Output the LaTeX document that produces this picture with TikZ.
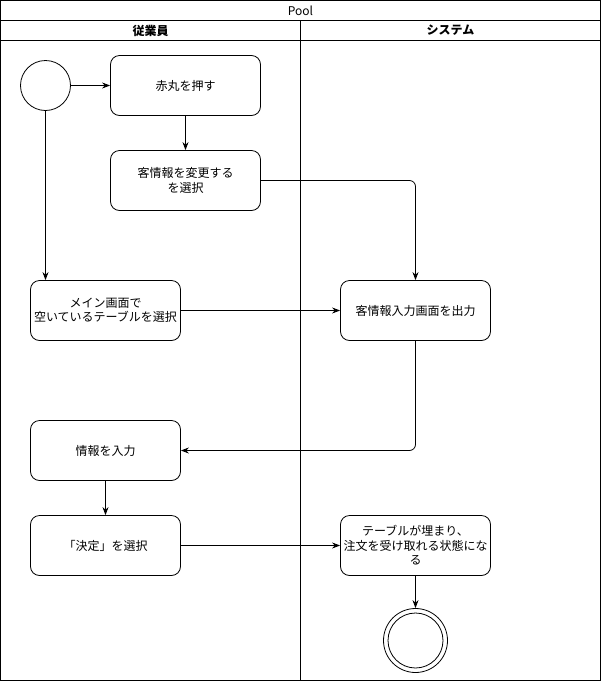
\documentclass[tikz,border=0pt]{standalone}
\usepackage{fontspec}
\setmainfont{Noto Sans CJK JP}
\usetikzlibrary{arrows.meta}
\begin{document}
\begin{tikzpicture}[x=1pt,y=-1pt,
  every node/.style={font=\fontsize{12}{14.5}\selectfont},
  act/.style={draw,rounded corners=9pt,minimum width=150pt,minimum height=60pt,inner sep=0pt,align=center,line width=0.8pt},
  flow/.style={-{Stealth[length=8pt,width=6pt]},line width=0.8pt,rounded corners=6pt},
  frame/.style={draw,line width=0.8pt}]
\useasboundingbox (0,0) rectangle (601,681);
% pool and lanes
\draw[frame] (0.5,0.5) rectangle (600.5,680.5);
\draw[frame] (0.5,20.5) -- (600.5,20.5);
\draw[frame] (0.5,40.5) -- (600.5,40.5);
\draw[frame] (300.5,20.5) -- (300.5,680.5);
\node (pool) at (300.5,10.5) {Pool};
\node[font=\fontsize{12}{14.5}\selectfont\bfseries] (lane1) at (150.5,30.5) {従業員};
\node[font=\fontsize{12}{14.5}\selectfont\bfseries] (lane2) at (450.5,30.5) {システム};
% nodes
\node[draw,circle,minimum size=50pt,inner sep=0pt,line width=0.8pt] (start) at (45.5,85.5) {};
\node[act] (a1) at (185.5,85.5) {赤丸を押す};
\node[act] (a2) at (185.5,180.5) {客情報を変更する\\を選択};
\node[act] (a3) at (105.5,310.5) {メイン画面で\\空いているテーブルを選択};
\node[act] (a4) at (415.5,310.5) {客情報入力画面を出力};
\node[act] (a5) at (105.5,450.5) {情報を入力};
\node[act] (a6) at (105.5,545.5) {「決定」を選択};
\node[act] (a7) at (415.5,545.5) {テーブルが埋まり、\\注文を受け取れる状態にな\\る};
\node[draw,circle,minimum size=64pt,inner sep=0pt,line width=0.8pt] (end) at (415.5,640.5) {};
\node[draw,circle,minimum size=55pt,inner sep=0pt,line width=0.8pt] (endin) at (415.5,640.5) {};
% edges
\draw[flow] (start) -- (a1);
\draw[flow] (start.south) -- (a3.north -| start.south);
\draw[flow] (a1) -- (a2);
\draw[flow] (a2.east) -| (a4.north);
\draw[flow] (a3) -- (a4);
\draw[flow] (a4.south) |- (a5.east);
\draw[flow] (a5) -- (a6);
\draw[flow] (a6) -- (a7);
\draw[flow] (a7) -- (end);
\end{tikzpicture}
\end{document}
